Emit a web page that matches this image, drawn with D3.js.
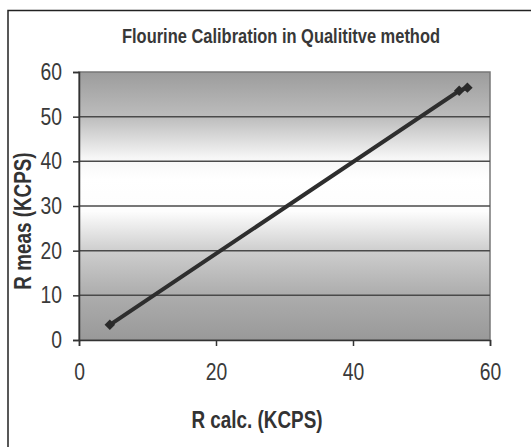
<!DOCTYPE html>
<html>
<head>
<meta charset="utf-8">
<script src="https://cdn.jsdelivr.net/npm/d3@7"></script>
<style>
  body { margin: 0; background: #fff; }
  svg text { font-family: "Liberation Sans", Arial, sans-serif; }
</style>
</head>
<body>
<svg id="chart" width="531" height="447"></svg>
<script>
// data
const rCalc = [4.5, 55.5, 56.7];
const rMeas = [3.4, 55.8, 56.5];
const xTicks = [0, 20, 40, 60];
const yTicks = [0, 10, 20, 30, 40, 50, 60];

const titleText = "Flourine Calibration in Qualititve method";
const xTitle = "R calc. (KCPS)";
const yTitle = "R meas (KCPS)";

const svg = d3.select("#chart");
const margin = { top: 72, right: 41, bottom: 107, left: 79 };
const width = 531 - margin.left - margin.right;
const height = 447 - margin.top - margin.bottom;

// the scan uses a narrow font, squeeze the glyphs to match
function condense(sel, factor) {
    sel.each(function () {
        const w = this.getComputedTextLength();
        d3.select(this)
            .attr("textLength", w * factor)
            .attr("lengthAdjust", "spacingAndGlyphs");
    });
}

// outer frame (only left + top edges show in the scan)
svg.append("path")
    .attr("d", "M8,447 V10.5 H531")
    .attr("fill", "none")
    .attr("stroke", "#222")
    .attr("stroke-width", 1.5);

const defs = svg.append("defs");
const grad = defs.append("linearGradient")
    .attr("id", "bg")
    .attr("x1", 0).attr("y1", 0).attr("x2", 0).attr("y2", 1);
[[0, "#9c9c9c"], [0.17, "#bdbdbd"], [0.32, "#f6f6f6"], [0.4, "#ffffff"],
 [0.52, "#fdfdfd"], [0.67, "#cdcdcd"], [0.83, "#adadad"], [1, "#999999"]].forEach(([o, c]) => {
    grad.append("stop").attr("offset", o).attr("stop-color", c);
});

const x = d3.scaleLinear().domain([0, 60]).range([0, width]);
const y = d3.scaleLinear().domain([0, 60]).range([height, 0]);

const g = svg.append("g")
    .attr("transform", `translate(${margin.left},${margin.top})`);

g.append("rect")
    .attr("width", width)
    .attr("height", height)
    .attr("fill", "url(#bg)")
    .attr("stroke", "#777")
    .attr("stroke-width", 1.5);

// horizontal gridlines
g.selectAll(".grid")
    .data(yTicks.filter(d => d > 0 && d < 60))
    .enter().append("line")
    .attr("class", "grid")
    .attr("x1", 0).attr("x2", width)
    .attr("y1", d => y(d)).attr("y2", d => y(d))
    .attr("stroke", "#4a4a4a")
    .attr("stroke-width", 1.5);

// axes
const xAxis = g.append("g")
    .attr("transform", `translate(0,${height})`)
    .call(d3.axisBottom(x).tickValues(xTicks).tickSize(6).tickPadding(18));
const yAxis = g.append("g")
    .call(d3.axisLeft(y).tickValues(yTicks).tickSize(6).tickPadding(11));

[xAxis, yAxis].forEach(a => {
    a.select(".domain").attr("stroke", "#333").attr("stroke-width", 1.5);
    a.selectAll(".tick line").attr("stroke", "#333").attr("stroke-width", 1.5);
    a.selectAll(".tick text")
        .attr("fill", "#3a3a3a")
        .style("font-size", "23px")
        .style("font-family", null)
        .call(condense, 0.84);
});

// series
const pts = rCalc.map((v, i) => ({ x: v, y: rMeas[i] }));
const line = d3.line().x(d => x(d.x)).y(d => y(d.y));

g.append("path")
    .datum(pts)
    .attr("fill", "none")
    .attr("stroke", "#2e2e2e")
    .attr("stroke-width", 4)
    .attr("d", line);

g.selectAll(".pt")
    .data(pts)
    .enter().append("path")
    .attr("class", "pt")
    .attr("transform", d => `translate(${x(d.x)},${y(d.y)})`)
    .attr("d", d3.symbol().type(d3.symbolDiamond2).size(70))
    .attr("fill", "#2a2a2a");

// titles
svg.append("text")
    .attr("x", 281)
    .attr("y", 43)
    .attr("text-anchor", "middle")
    .attr("fill", "#383838")
    .style("font-size", "21px")
    .style("font-weight", "bold")
    .text(titleText)
    .attr("textLength", 318)
    .attr("lengthAdjust", "spacingAndGlyphs");

svg.append("text")
    .attr("x", 257)
    .attr("y", 428)
    .attr("text-anchor", "middle")
    .attr("fill", "#333")
    .style("font-size", "23px")
    .style("font-weight", "bold")
    .text(xTitle)
    .call(condense, 0.82);

svg.append("text")
    .attr("transform", "translate(31,221) rotate(-90)")
    .attr("text-anchor", "middle")
    .attr("fill", "#333")
    .style("font-size", "23px")
    .style("font-weight", "bold")
    .text(yTitle)
    .call(condense, 0.82);
</script>
</body>
</html>
